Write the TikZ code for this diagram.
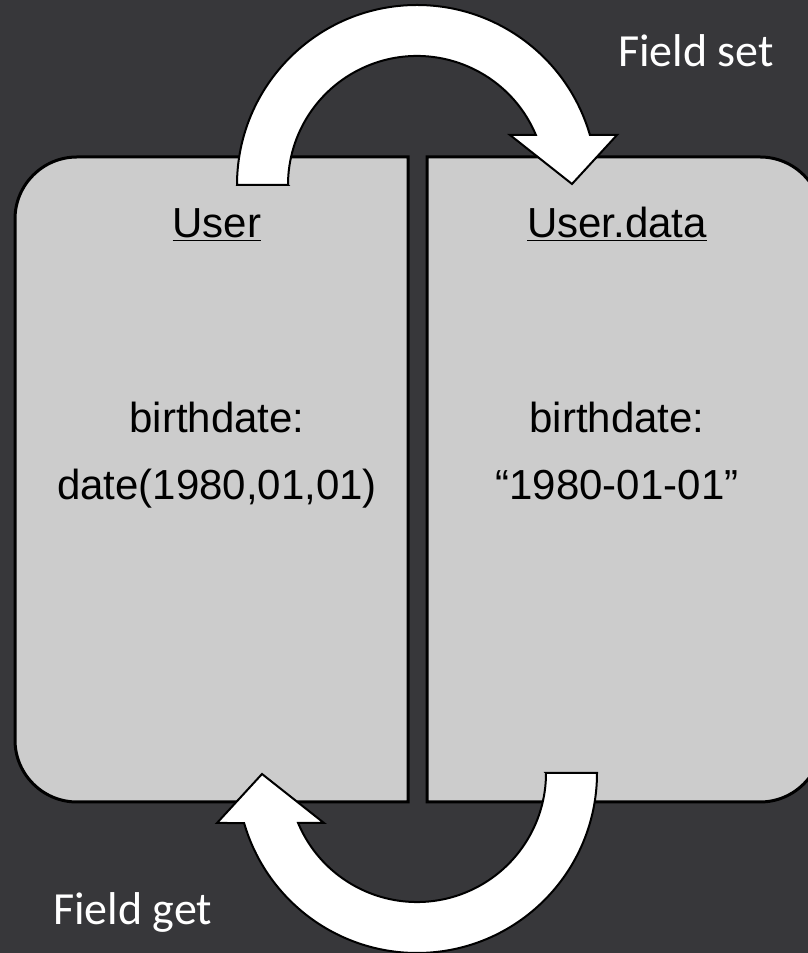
\documentclass[tikz,border=0pt]{standalone}
\usepackage{fontspec}
\setmainfont{Liberation Sans}
\newfontfamily\calibri{Carlito}
\usepackage{xcolor}
\definecolor{slide}{RGB}{55,55,58}
\definecolor{boxgray}{RGB}{204,204,204}
\tikzset{
  box/.style={draw=black, line width=3pt, fill=boxgray},
  fatarrow/.style={draw=black, line width=2pt, fill=white, line join=miter},
  boxtext/.style={font=\fontsize{42}{50}\selectfont, inner sep=0pt, anchor=base},
  fieldtext/.style={font=\calibri\fontsize{46}{55}\selectfont, text=white, inner sep=0pt, anchor=base west}
}

\begin{document}
\begin{tikzpicture}[x=1pt,y=1pt]
\useasboundingbox (0,0) rectangle (808,953);
\fill[slide] (0,0) rectangle (808,953);
\draw[box] (408,151) -- (408,796) -- (77,796) arc[start angle=90,end angle=180,radius=62pt] -- (15,213) arc[start angle=180,end angle=270,radius=62pt] -- cycle;
\draw[box] (427,151) -- (427,796) -- (760,796) arc[start angle=90,end angle=0,radius=62pt] -- (822,213) arc[start angle=0,end angle=-90,radius=62pt] -- cycle;
\node[boxtext] (user) at (217,715) {\underline{User}};
\node[boxtext] (userdata) at (617,715) {\underline{User.data}};
\node[boxtext] (birthuser) at (217,520) {birthdate:};
\node[boxtext] (dateuser) at (217,453) {date(1980,01,01)};
\node[boxtext] (birthdata) at (617,520) {birthdate:};
\node[boxtext] (datedata) at (617,453) {“1980-01-01”};
\foreach \r in {0,180}
  \draw[fatarrow, rotate around={\r:(417,474)}] (288,768) -- (237,768) arc[start angle=180,end angle=16.13,radius=180pt] -- (617,818) -- (572,769) -- (510,818) -- (535.9,818) arc[start angle=22.8,end angle=180,radius=129pt] -- cycle;
\node[fieldtext] (fieldset) at (618,886) {Field set};
\node[fieldtext] (fieldget) at (53,28) {Field get};
\end{tikzpicture}
\end{document}
